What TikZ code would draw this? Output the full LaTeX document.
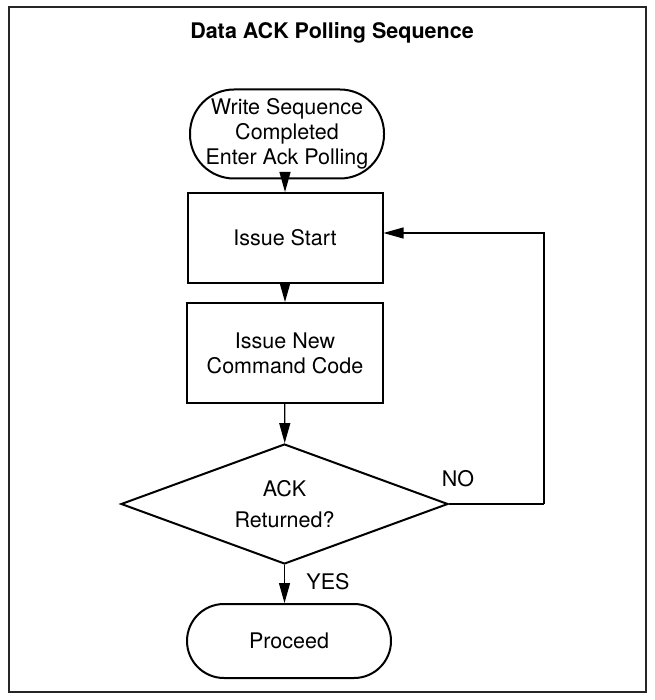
\documentclass[tikz,border=0pt]{standalone}
\usepackage{fontspec}
\setmainfont{TeX Gyre Heros}
\usetikzlibrary{arrows.meta,shapes.geometric}
\begin{document}
\begin{tikzpicture}[x=1pt,y=-1pt,
  every node/.style={font=\fontsize{21.5}{25}\selectfont, align=center, inner sep=0pt},
  termbox/.style={draw, line width=2pt, rectangle},
  procbox/.style={draw, line width=2pt, rectangle},
  decbox/.style={draw, line width=2pt, diamond, aspect=2.725},
  conn/.style={line width=1.2pt, -{Triangle[length=20pt,width=11pt]}},
  plainline/.style={line width=1.2pt}
]
\useasboundingbox (0,0) rectangle (654,700);
\draw[line width=1.5pt, black!85] (9,7) rectangle (646,692);
\node[font=\bfseries\fontsize{21.5}{25}\selectfont] (title) at (332,33) {Data ACK Polling Sequence};
\node[termbox, rounded corners=44pt, minimum width=194pt, minimum height=89pt] (start) at (287,134) {Write Sequence\\Completed\\Enter Ack Polling};
\node[procbox, minimum width=195pt, minimum height=90pt] (issue) at (285,238) {Issue Start};
\node[procbox, minimum width=196pt, minimum height=100pt] (cmd) at (285,353) {Issue New\\Command Code};
\node[decbox, minimum width=327pt, minimum height=120pt] (dec) at (284.5,504) {ACK\\[6pt]Returned?};
\node[termbox, rounded corners=37pt, minimum width=204pt, minimum height=74pt] (proc) at (289,641) {Proceed};
\coordinate (loop) at (544,504);
\draw[conn] (start.south -| issue) -- (issue.north);
\draw[conn] (issue) -- (cmd);
\draw[conn] (cmd) -- (dec);
\draw[conn] (dec.south) -- (dec.south |- proc.north);
\draw[plainline] (dec.east) -- (loop);
\draw[conn] (loop) |- ([yshift=5pt]issue.east);
\node (no) at (458,479) {NO};
\node (yes) at (328,582) {YES};
\end{tikzpicture}
\end{document}
